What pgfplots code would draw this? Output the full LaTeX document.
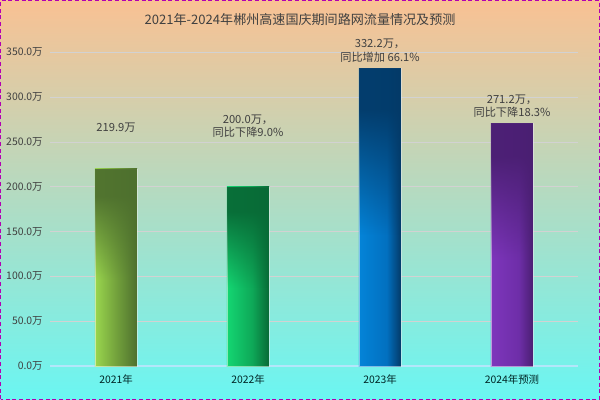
\documentclass[border=0pt]{standalone}
\usepackage{fontspec}
\setmainfont{Noto Sans CJK SC}
\usepackage{pgfplots}
\pgfplotsset{compat=1.18}
\usetikzlibrary{fadings}
\definecolor{bgtop}{HTML}{F9C193}
\definecolor{bgmid}{HTML}{E6E2CA}
\definecolor{bgbot}{HTML}{6AF6F2}
\definecolor{txt}{HTML}{404040}
\definecolor{ga}{HTML}{9AD64E}\definecolor{gm}{HTML}{73A23C}\definecolor{gb}{HTML}{4E702E}
\definecolor{ha}{HTML}{14D672}\definecolor{hm}{HTML}{0EA858}\definecolor{hb}{HTML}{086A36}
\definecolor{ba}{HTML}{0484D8}\definecolor{bm}{HTML}{0270C0}\definecolor{bb}{HTML}{033A68}
\definecolor{pa}{HTML}{7E36BC}\definecolor{pm}{HTML}{6E2EA8}\definecolor{pb}{HTML}{4A1F72}
\pgfdeclarehorizontalshading{shg}{100bp}{color(0bp)=(ga); color(25bp)=(ga); color(50bp)=(gm); color(75bp)=(gb); color(100bp)=(gb)}
\pgfdeclarehorizontalshading{shh}{100bp}{color(0bp)=(ha); color(25bp)=(ha); color(55bp)=(hm); color(75bp)=(hb); color(100bp)=(hb)}
\pgfdeclarehorizontalshading{shb}{100bp}{color(0bp)=(ba); color(25bp)=(ba); color(58bp)=(bm); color(75bp)=(bb); color(100bp)=(bb)}
\pgfdeclarehorizontalshading{shp}{100bp}{color(0bp)=(pa); color(25bp)=(pa); color(58bp)=(pm); color(75bp)=(pb); color(100bp)=(pb)}
\pgfdeclareverticalshading{fadesh}{100bp}{color(0bp)=(pgftransparent!100); color(25bp)=(pgftransparent!100); color(47bp)=(pgftransparent!100); color(68bp)=(pgftransparent!0); color(100bp)=(pgftransparent!0)}
\pgfdeclarefading{topfade}{\pgfuseshading{fadesh}}
\begin{document}
\begin{tikzpicture}
\shade[top color=bgtop, middle color=bgmid, bottom color=bgbot] (0,0) rectangle (450pt,300pt);
\useasboundingbox (0,0) rectangle (450pt,300pt);
\draw[densely dashed, color=violet!60!magenta, line width=0.4pt] (0.4pt,0.4pt) rectangle (449.6pt,299.6pt);
\node[font=\fontsize{9.8}{12}\selectfont, text=txt] at (225pt,285.5pt) {2021年-2024年郴州高速国庆期间路网流量情况及预测};
\begin{axis}[
  at={(37.5pt,25.5pt)}, anchor=south west,
  scale only axis, width=396pt, height=235.2pt,
  xmin=-0.5, xmax=3.5, ymin=0, ymax=350,
  ytick={0,50,...,350},
  xtick={0,1,2,3},
  xticklabels={2021年,2022年,2023年,2024年预测},
  axis x line=bottom, axis y line=left,
  x axis line style={draw=white!70!cyan, line width=0.8pt, -},
  y axis line style={draw=none},
  ymajorgrids, grid style={draw=gray!35, line width=0.5pt},
  major tick length=0pt,
  tick label style={font=\fontsize{7.8}{9}\selectfont},
  yticklabel style={text=txt, xshift=-2pt},
  xticklabel style={text=black!70!teal, yshift=-3pt},
  /pgf/number format/assume math mode=true,
  yticklabel={\pgfmathprintnumber[fixed,fixed zerofill,precision=1]{\tick}万},
  clip=false,
  ybar, bar width=31.5pt,
  lower/.style={bar shift=0pt, draw=white, draw opacity=0.5, line width=0.4pt, shading=#1},
  upper/.style={bar shift=0pt, draw=none, fill=#1, fill opacity=0.95, path fading=topfade},
]
\addplot[lower=shg] coordinates {(0,219.9)};
\addplot[upper=gb] coordinates {(0,219.9)};
\addplot[lower=shh] coordinates {(1,200.0)};
\addplot[upper=hb] coordinates {(1,200.0)};
\addplot[lower=shb] coordinates {(2,332.2)};
\addplot[upper=bb] coordinates {(2,332.2)};
\addplot[lower=shp] coordinates {(3,271.2)};
\addplot[upper=pb] coordinates {(3,271.2)};
\begin{scope}[every node/.style={font=\fontsize{8.4}{10}\selectfont, text=txt, align=center}]
\node at (axis cs:0,266) {219.9万};
\node at (axis cs:1,268) {200.0万，\\同比下降9.0\%};
\node at (axis cs:2,352) {332.2万，\\同比增加 66.1\%};
\node at (axis cs:3,290) {271.2万，\\同比下降18.3\%};
\end{scope}
\end{axis}
\end{tikzpicture}
\end{document}
